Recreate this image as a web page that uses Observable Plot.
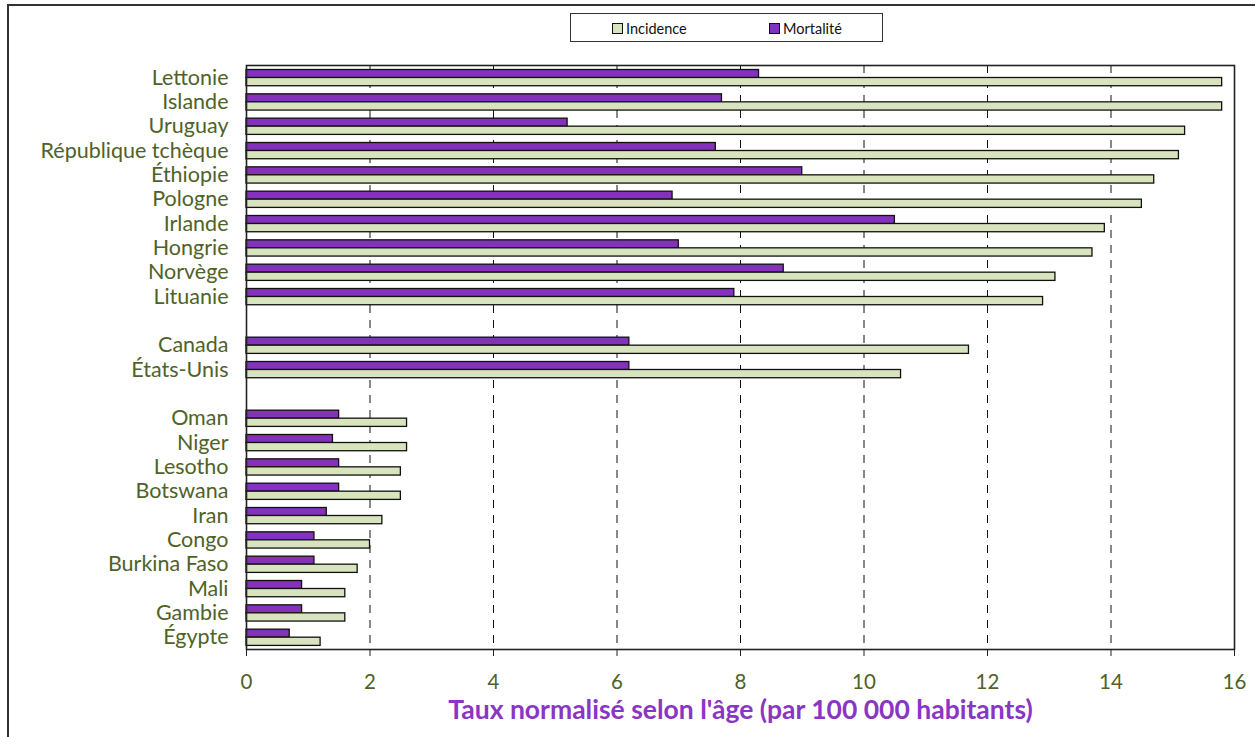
<!DOCTYPE html>
<html lang="fr">
<head>
<meta charset="utf-8">
<script src="https://cdn.jsdelivr.net/npm/d3@7"></script>
<script src="https://cdn.jsdelivr.net/npm/@observablehq/plot@0.6"></script>
<style>
  html, body { margin: 0; padding: 0; background: #fff; }
  #wrap { position: relative; width: 1255px; height: 737px; overflow: hidden; font-family: Lato, "Open Sans", sans-serif; }
  #edge { position: absolute; left: 7px; top: 4px; right: -10px; bottom: -10px;
          border-top: 2px solid #333; border-left: 2px solid #333; pointer-events: none; }
  #chart { position: absolute; left: 0; top: 0; }
  #legend { position: absolute; left: 570px; top: 13px; width: 313px; height: 29px;
            border: 1px solid #333; background: #fff; box-sizing: border-box; }
  .item { position: absolute; top: 6px; display: flex; align-items: center; font-size: 14.5px; color: #111; }
  .sw { width: 9px; height: 9px; border: 1px solid #111; margin-right: 3px; }
</style>
</head>
<body>
<div id="wrap">
  <div id="chart"></div>
  <div id="edge"></div>
  <div id="legend"></div>
</div>
<script>
// Age-standardised rates per 100 000, listed top to bottom
const countries = [
  "Lettonie", "Islande", "Uruguay", "République tchèque", "Éthiopie",
  "Pologne", "Irlande", "Hongrie", "Norvège", "Lituanie",
  "Canada", "États-Unis",
  "Oman", "Niger", "Lesotho", "Botswana", "Iran",
  "Congo", "Burkina Faso", "Mali", "Gambie", "Égypte"
];
const incidence = [
  15.8, 15.8, 15.2, 15.1, 14.7, 14.5, 13.9, 13.7, 13.1, 12.9,
  11.7, 10.6,
  2.6, 2.6, 2.5, 2.5, 2.2, 2.0, 1.8, 1.6, 1.6, 1.2
];
const mortality = [
  8.3, 7.7, 5.2, 7.6, 9.0, 6.9, 10.5, 7.0, 8.7, 7.9,
  6.2, 6.2,
  1.5, 1.4, 1.5, 1.5, 1.3, 1.1, 1.1, 0.9, 0.9, 0.7
];
const seriesNames = ["Incidence", "Mortalité"];
const xTicks = [0, 2, 4, 6, 8, 10, 12, 14, 16];
const gridTicks = [2, 4, 6, 8, 10, 12, 14];
const xTitle = "Taux normalisé selon l'âge (par 100 000 habitants)";

const colors = { "Incidence": "#d7e4bd", "Mortalité": "#8432bb" };
const textGreen = "#4f6228";

// Empty rows separate the three groups of countries
const yOrder = [
  ...countries.slice(0, 10), "·gap1",
  ...countries.slice(10, 12), "·gap2",
  ...countries.slice(12)
];

const rows = countries.map((c, i) => ({ country: c, incidence: incidence[i], mortality: mortality[i] }));

const chart = Plot.plot({
  width: 1255,
  height: 737,
  marginLeft: 246,
  marginRight: 21,
  marginTop: 65,
  marginBottom: 88,
  style: { fontFamily: "Lato, 'Open Sans', sans-serif", background: "transparent" },
  x: { domain: [0, 16] },
  y: { domain: yOrder, padding: 0, round: false },
  marks: [
    Plot.gridX(gridTicks, { stroke: "#111", strokeOpacity: 1, strokeWidth: 1, strokeDasharray: "8,7" }),
    Plot.barX(rows, {
      y: "country", x: "mortality", fill: colors["Mortalité"],
      stroke: "#111", strokeWidth: 1.3, insetTop: 4.5, insetBottom: 11.8
    }),
    Plot.barX(rows, {
      y: "country", x: "incidence", fill: colors["Incidence"],
      stroke: "#111", strokeWidth: 1.3, insetTop: 12.5, insetBottom: 3.6
    }),
    Plot.frame({ stroke: "#222", strokeWidth: 1.6 }),
    Plot.axisY({
      tickSize: 0, tickPadding: 18, label: null,
      tickFormat: d => d.startsWith("·") ? "" : d,
      fontSize: 21.5, fill: textGreen
    }),
    Plot.axisX(xTicks, {
      tickSize: 7, tickPadding: 18, label: null,
      fontSize: 20.5, color: "#222", fill: textGreen
    }),
    Plot.text([xTitle], {
      frameAnchor: "bottom", lineAnchor: "middle", dy: 61, fill: "#8a35c4",
      fontSize: 26.5, fontWeight: "bold"
    })
  ]
});
document.getElementById("chart").append(chart);

// Legend box
const legend = d3.select("#legend");
const legendX = { "Incidence": 41, "Mortalité": 198 };
for (const name of seriesNames) {
  const item = legend.append("div").attr("class", "item").style("left", legendX[name] + "px");
  item.append("div").attr("class", "sw").style("background", colors[name]);
  item.append("span").text(name);
}
</script>
</body>
</html>
